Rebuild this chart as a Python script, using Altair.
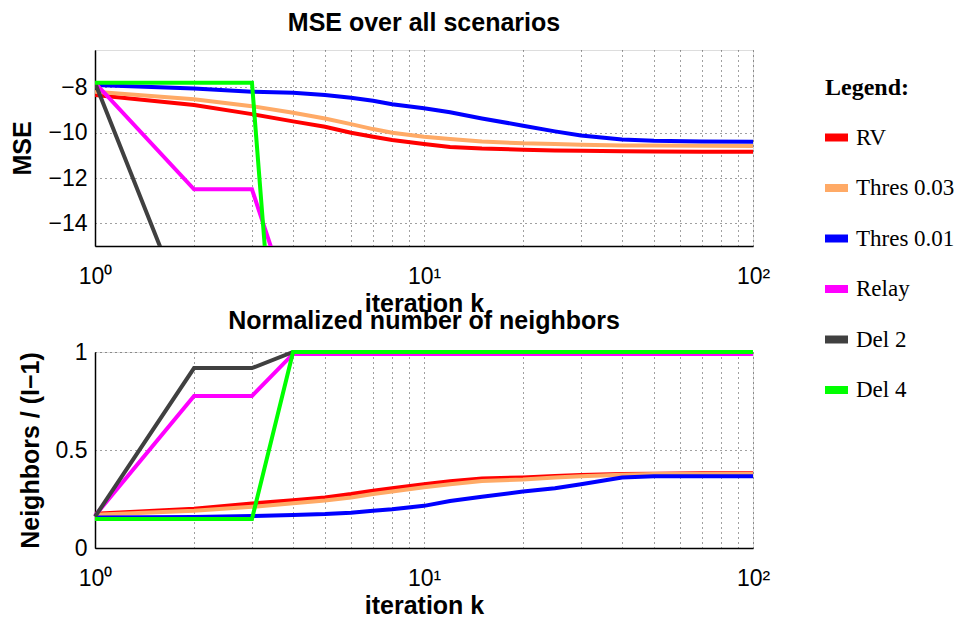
import altair as alt
import pandas as pd

# ---------------- data ----------------
iters = [1, 2, 3, 4, 5, 6, 7, 8, 10, 12, 15, 20, 25, 30, 40, 50, 70, 100]
step_iters = [1, 2, 3, 4, 100]

series_names = ["RV", "Thres 0.03", "Thres 0.01", "Relay", "Del 2", "Del 4"]
series_colors = ["#ff0000", "#ffaa66", "#0000ff", "#ff00ff", "#404040", "#00ff00"]

mse_rv = [-8.34, -8.78, -9.18, -9.5, -9.74, -10.0, -10.18, -10.32, -10.5, -10.63,
          -10.7, -10.75, -10.78, -10.8, -10.82, -10.83, -10.84, -10.84]
mse_thres03 = [-8.19, -8.52, -8.83, -9.12, -9.37, -9.62, -9.84, -10.0, -10.18, -10.28,
               -10.39, -10.47, -10.5, -10.53, -10.56, -10.57, -10.58, -10.59]
mse_thres01 = [-7.9, -8.05, -8.19, -8.24, -8.34, -8.46, -8.59, -8.74, -8.92, -9.1,
               -9.37, -9.69, -9.94, -10.12, -10.3, -10.36, -10.39, -10.4]
mse_relay = [-7.8, -12.5, -12.5, -18.0, -18.0]
mse_del2 = [-7.8, -18.8, -20.0, -20.0, -20.0]
mse_del4 = [-7.8, -7.8, -7.8, -31.0, -31.0]

nb_rv = [0.175, 0.2, 0.227, 0.244, 0.258, 0.275, 0.292, 0.305, 0.325, 0.34,
         0.354, 0.36, 0.367, 0.372, 0.377, 0.379, 0.381, 0.381]
nb_thres03 = [0.17, 0.19, 0.21, 0.228, 0.242, 0.258, 0.275, 0.288, 0.31, 0.325,
              0.342, 0.35, 0.36, 0.366, 0.374, 0.377, 0.378, 0.378]
nb_thres01 = [0.155, 0.158, 0.163, 0.169, 0.173, 0.18, 0.19, 0.198, 0.215, 0.24,
              0.262, 0.288, 0.305, 0.325, 0.36, 0.366, 0.366, 0.366]
nb_relay = [0.165, 0.776, 0.776, 0.99, 0.99]
nb_del2 = [0.16, 0.918, 0.918, 1.0, 1.0]
nb_del4 = [0.148, 0.148, 0.148, 1.0, 1.0]

x_grid_values = [1, 2, 3, 4, 5, 6, 7, 8, 9, 10, 20, 30, 40, 50, 60, 70, 80, 90, 100]
mse_ticks = [-14, -12, -10, -8]
nb_ticks = [0, 0.5, 1]


def to_long(rows):
    recs = []
    for name, ks, vals in rows:
        for k, v in zip(ks, vals):
            recs.append({"series": name, "k": k, "v": v})
    return pd.DataFrame(recs)


mse_df = to_long([
    ("RV", iters, mse_rv), ("Thres 0.03", iters, mse_thres03), ("Thres 0.01", iters, mse_thres01),
    ("Relay", step_iters, mse_relay), ("Del 2", step_iters, mse_del2), ("Del 4", step_iters, mse_del4),
])
nb_df = to_long([
    ("RV", iters, nb_rv), ("Thres 0.03", iters, nb_thres03), ("Thres 0.01", iters, nb_thres01),
    ("Relay", step_iters, nb_relay), ("Del 2", step_iters, nb_del2), ("Del 4", step_iters, nb_del4),
])

SANS = "Liberation Sans"
SERIF = "Liberation Serif"

label_expr = ("datum.value == 1 ? '10\u2070' : (datum.value == 10 ? '10\u00b9' : "
              "(datum.value == 100 ? '10\u00b2' : ''))")

x_axis = alt.Axis(
    values=x_grid_values, labelExpr=label_expr, labelFontSize=23, labelFont=SANS,
    labelColor="black", labelPadding=19, labelOverlap=False, labelFlush=False,
    labelBound=False, title="iteration k", titleFontSize=25, titleFont=SANS,
    titleFontWeight="bold", titleColor="black", titlePadding=3, ticks=False,
    grid=True, gridDash=[1, 4], gridColor="black", gridOpacity=0.75, gridWidth=1,
    domainColor="black", domainWidth=1.5,
)


def y_axis(title, values, fmt):
    return alt.Axis(
        values=values, format=fmt, labelFontSize=23, labelFont=SANS, labelColor="black",
        labelPadding=8, title=title, titleFontSize=25, titleFont=SANS,
        titleFontWeight="bold", titleColor="black", titlePadding=12, ticks=False,
        grid=True, gridDash=[1, 4], gridColor="black", gridOpacity=0.75, gridWidth=1,
        domainColor="black", domainWidth=1.5,
    )


color_scale = alt.Scale(domain=series_names, range=series_colors)
legend = alt.Legend(
    title="Legend:", orient="none", legendX=730, legendY=26,
    titleFont=SERIF, titleFontSize=24, titleFontWeight="bold", titleColor="black",
    titlePadding=22, labelFont=SERIF, labelFontSize=23, labelColor="black",
    labelOffset=4, symbolType="stroke", symbolStrokeWidth=8, symbolSize=529,
    symbolOffset=-4, rowPadding=17.5, padding=0,
)


def panel(df, y_title, y_domain, y_vals, y_fmt, title, title_offset, clip):
    layers = []
    for i, s in enumerate(series_names):
        layers.append(
            alt.Chart(df).transform_filter(alt.datum.series == s)
            .mark_line(strokeWidth=4, clip=clip)
            .encode(
                x=alt.X("k:Q", scale=alt.Scale(type="log", domain=[1, 100], nice=False), axis=x_axis),
                y=alt.Y("v:Q", scale=alt.Scale(domain=y_domain, nice=False, zero=False),
                        axis=y_axis(y_title, y_vals, y_fmt)),
                color=alt.Color("series:N", scale=color_scale,
                                legend=legend if i == 0 else None),
            )
        )
    return alt.layer(*layers).properties(
        width=658, height=196,
        title=alt.TitleParams(title, fontSize=25, font=SANS, fontWeight="bold",
                              color="black", anchor="middle", offset=title_offset),
    )


top = panel(mse_df, "MSE", [-15, -6.35], mse_ticks, "d", "MSE over all scenarios", 14, True)
bottom = panel(nb_df, "Neighbors / (I\u22121)", [0, 1], nb_ticks, "~g",
               "Normalized number of neighbors", 7, False)

chart = alt.vconcat(top, bottom, spacing=106, bounds="flush").properties(
    padding={"left": 2, "top": 2, "right": 0, "bottom": 0}
).configure_view(stroke="black", strokeWidth=1.5).configure(background="white")

chart.save("out.html", embed_options={"renderer": "svg", "actions": False})
